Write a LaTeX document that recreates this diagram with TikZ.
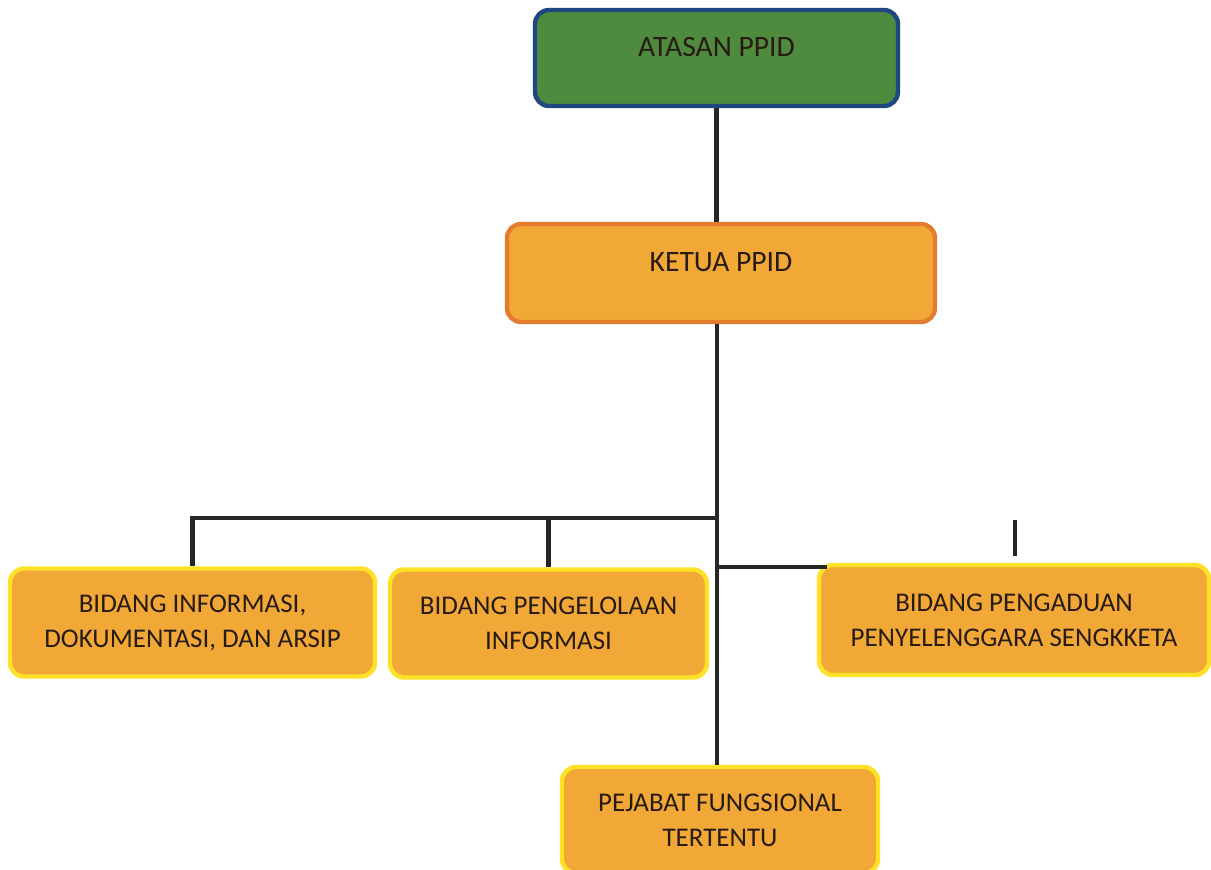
\documentclass[tikz,border=0pt]{standalone}
\usepackage{fontspec}
\setmainfont{Carlito}
\definecolor{atasgreen}{RGB}{78,139,62}
\definecolor{atasblue}{RGB}{32,72,128}
\definecolor{boxorange}{RGB}{241,168,54}
\definecolor{ketuaedge}{RGB}{228,124,48}
\definecolor{boxyellow}{RGB}{255,226,40}
\definecolor{txtdark}{RGB}{40,28,18}
\begin{document}
\begin{tikzpicture}[x=0.5pt,y=-0.5pt,
	orgbox/.style={rectangle,rounded corners=7pt,line width=2.2pt,fill=boxorange,draw=boxyellow,
		text=txtdark,align=center,font=\fontsize{13.5}{17.5}\selectfont,inner sep=0pt},
	toptext/.style={text depth=11pt,font=\fontsize{14.8}{18}\selectfont},
	link/.style={line width=2.1pt,color=black!85}]
	\useasboundingbox (0,0) rectangle (1211,869);
	\clip (0,0) rectangle (1211,869);

	\node (atasan) [orgbox,toptext,fill=atasgreen,draw=atasblue,minimum width=181.5pt,minimum height=48pt] at (716.5,58) {ATASAN PPID};
	\node (ketua) [orgbox,toptext,draw=ketuaedge,minimum width=214pt,minimum height=49pt] at (721,273) {KETUA PPID};

	\node (bidA) [orgbox,minimum width=182.5pt,minimum height=54pt] at (192.5,622.5) {BIDANG INFORMASI,\\DOKUMENTASI, DAN ARSIP};
	\node (bidB) [orgbox,minimum width=158.5pt,minimum height=54pt] at (548.5,623.5) {BIDANG PENGELOLAAN\\INFORMASI};
	\node (bidC) [orgbox,minimum width=195pt,minimum height=55pt] at (1014,620) {BIDANG PENGADUAN\\PENYELENGGARA SENGKKETA};
	\node (pejabat) [orgbox,minimum width=158pt,minimum height=53pt] at (720,820) {PEJABAT FUNGSIONAL\\TERTENTU};

	\coordinate (bus) at (717,518);
	\coordinate (stub) at (1015,520);
	%\coordinate (busC) at (717,567);

	\draw [link] (atasan.south) -- (atasan.south |- ketua.north);
	\draw [link] (ketua.south -| bus) -- (bus |- pejabat.north);
	\draw [link] (bus) -| (bidA.north);
	\draw [link] (bus -| bidB.north) -- (bidB.north);
	\draw [link] ([yshift=-2pt]bus |- bidC.north west) -- ([xshift=5pt,yshift=-2pt]bidC.north west);
	\draw [link] (stub) -- ([yshift=3.5pt]bidC.north -| stub);
\end{tikzpicture}
\end{document}
